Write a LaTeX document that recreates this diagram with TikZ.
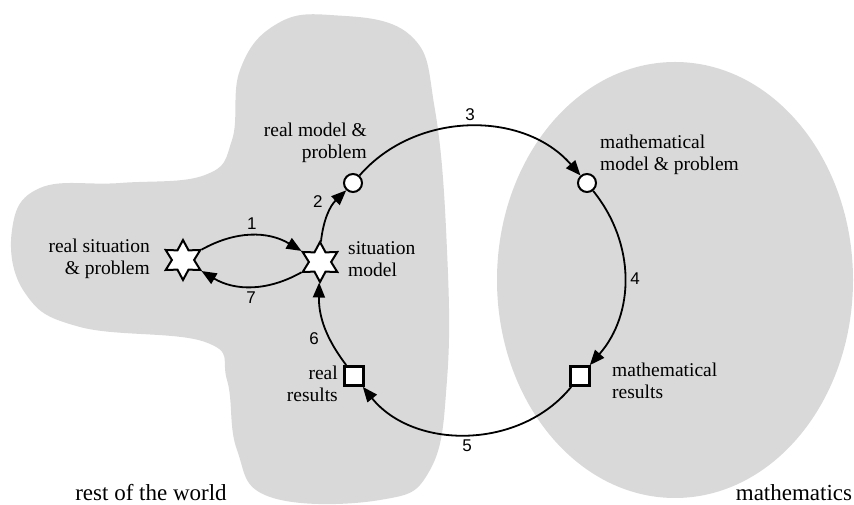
\documentclass[tikz,border=0pt]{standalone}
\usepackage{fontspec}
\setmainfont{Liberation Serif}
\newfontfamily\numfont{Liberation Sans}
\usetikzlibrary{arrows.meta,shapes.geometric}
\tikzset{
  region/.style={fill=black!15, draw=none},
  lbl/.style={font=\fontsize{19.5}{22}\selectfont, inner sep=0pt},
  arealbl/.style={font=\fontsize{23}{27}\selectfont, inner sep=0pt, anchor=base},
  stage/.style={draw, fill=white, line width=2pt},
  stagestar/.style={stage, star, star points=6, star point ratio=1.8, minimum size=40pt, inner sep=0pt},
  stagedot/.style={stage, circle, minimum size=18pt, inner sep=0pt},
  stagebox/.style={stage, rectangle, minimum size=19pt, line width=2.8pt, inner sep=0pt},
  steparrow/.style={line width=1.8pt, -{Triangle[length=15pt,width=12pt]}},
  stepnum/.style={font=\numfont\fontsize{17}{17}\selectfont, auto, inner sep=5pt}
}
\begin{document}
\begin{tikzpicture}[x=1pt,y=1pt]
\useasboundingbox (0,0) rectangle (854,505);
% rest of the world and mathematics
\fill[region] plot[smooth cycle, tension=0.7] coordinates {
  (330,490) (410,470) (435,395) (447,255) (447,125) (430,35) (380,5)
  (270,8) (237,55) (227,125) (205,163) (80,178) (25,212) (12,275)
  (40,317) (120,322) (205,330) (232,365) (240,435) (275,480)};
\fill[region] (675,225) ellipse [x radius=178, y radius=218];
\node[arealbl] (world) at (151,4) {rest of the world};
\node[arealbl] (maths) at (794,4) {mathematics};

% stages
\node[stagestar] (sitreal) at (183,245) {};
\node[stagestar] (sitmodel) at (320,243) {};
\node[stagedot] (realmodel) at (353,322) {};
\node[stagedot] (mathmodel) at (587,322) {};
\node[stagebox] (realres) at (354,129) {};
\node[stagebox] (mathres) at (580,129) {};

\node[lbl, anchor=east, align=right] (sitreallbl) at (150,246) {real situation\\\& problem};
\node[lbl, anchor=west, align=left] (sitmodellbl) at (348,246) {situation\\model};
\node[lbl, anchor=east, align=right] (realmodellbl) at (367,362) {real model \&\\problem};
\node[lbl, anchor=west, align=left] (mathmodellbl) at (600,350) {mathematical\\model \& problem};
\node[lbl, anchor=east, align=right] (realreslbl) at (338,121) {real\\results};
\node[lbl, anchor=west, align=left] (mathreslbl) at (612,124) {mathematical\\results};

% the modelling cycle
\path[steparrow]
  (sitreal) edge[bend left=30] node[stepnum] {1} (sitmodel)
  (sitmodel) edge[bend left=30] node[stepnum] {7} (sitreal)
  (sitmodel) edge[bend left=20] node[stepnum] {2} (realmodel)
  (realmodel) edge[bend left=49] node[stepnum] {3} (mathmodel)
  (mathmodel) edge[bend left=40] node[stepnum] {4} (mathres)
  (mathres) edge[bend left=51] node[stepnum] {5} (realres)
  (realres) edge[bend left=19] node[stepnum] {6} (sitmodel);
\end{tikzpicture}
\end{document}
